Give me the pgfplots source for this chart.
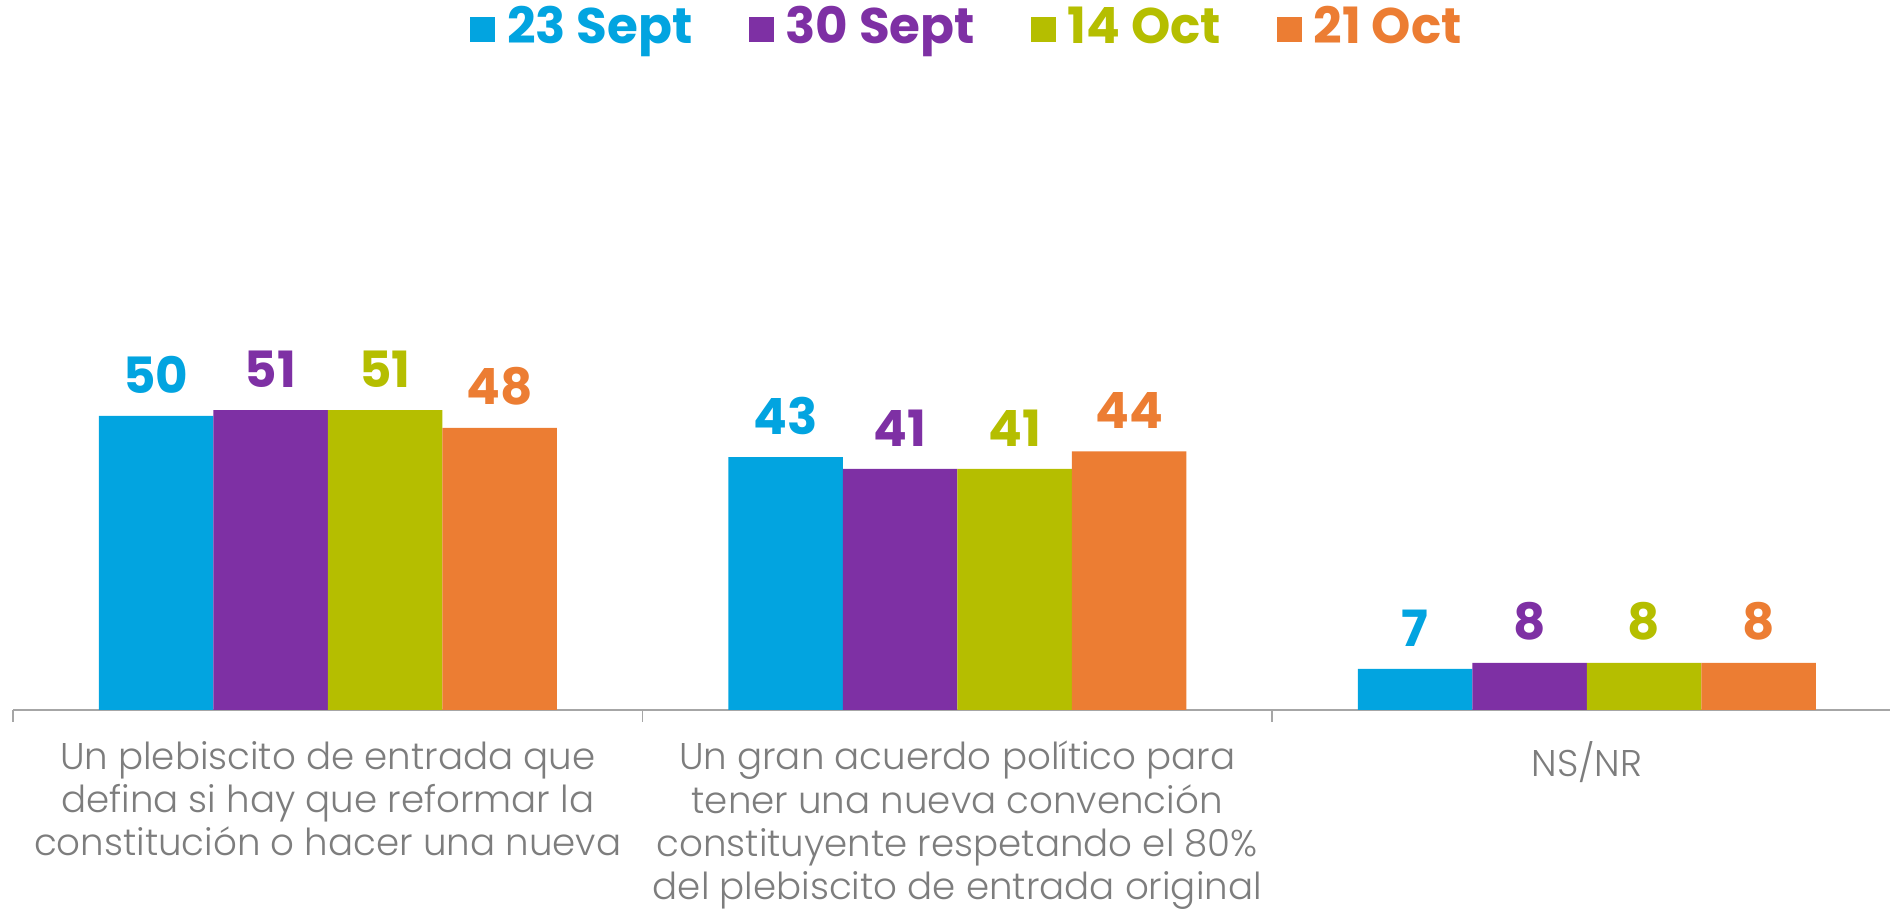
\documentclass[border=0pt]{standalone}
\usepackage{pgfplots}
\pgfplotsset{compat=1.18}
\usepackage{fontspec}
\setmainfont{Poppins}
\newfontfamily\lightfont{Poppins Light}
\definecolor{cblue}{RGB}{2,164,224}
\definecolor{cpurple}{RGB}{126,48,164}
\definecolor{cgreen}{RGB}{181,190,0}
\definecolor{corange}{RGB}{236,125,51}
\definecolor{axgray}{RGB}{166,166,166}
\definecolor{labgray}{RGB}{125,125,125}
\begin{document}
\begin{tikzpicture}
\path[use as bounding box] (0,0) rectangle (945pt,457.5pt);
\begin{axis}[
  at={(6.5pt,102.5pt)}, anchor=south west,
  width=944.25pt, height=294pt, scale only axis,
  xmin=-0.5, xmax=2.5, ymin=0, ymax=100,
  ybar=0pt, bar width=57.25pt,
  axis y line=none, axis x line*=bottom,
  x axis line style={draw=axgray, line width=0.75pt, -},
  tick align=outside, major tick length=6pt,
  xtick={0,1,2},
  xticklabels={{Un plebiscito de entrada que\\defina si hay que reformar la\\constitución o hacer una nueva},
    {Un gran acuerdo político para\\tener una nueva convención\\constituyente respetando el 80\%\\del plebiscito de entrada original},
    {NS/NR}},
  xtick style={draw=none},
  extra x ticks={-0.5,0.5,1.5},
  extra x tick labels={},
  extra x tick style={xtick style={draw=axgray, line width=0.75pt}},
  xticklabel style={font=\lightfont\fontsize{18.6}{21.7}\selectfont, text=labgray, align=center, yshift=-6pt},
  /pgf/number format/assume math mode=true,
  nodes near coords,
  nodes near coords style={font=\fontsize{25}{25}\selectfont\bfseries, anchor=south, inner sep=0pt, yshift=11pt},
  legend style={at={(0.5057,1.162)}, anchor=center, draw=none, legend columns=4,
    /tikz/every even column/.append style={column sep=26pt},
    font=\fontsize{25}{25}\selectfont\bfseries},
  legend image code/.code={\fill[#1] (0pt,-7.5pt) rectangle (12.5pt,5pt);},
]
\addplot[fill=cblue, draw=none, nodes near coords style={text=cblue}] coordinates {(0,50) (1,43) (2,7)};
\addplot[fill=cpurple, draw=none, nodes near coords style={text=cpurple}] coordinates {(0,51) (1,41) (2,8)};
\addplot[fill=cgreen, draw=none, nodes near coords style={text=cgreen}] coordinates {(0,51) (1,41) (2,8)};
\addplot[fill=corange, draw=none, nodes near coords style={text=corange}] coordinates {(0,48) (1,44) (2,8)};
\addlegendentry{\hspace{4pt}\textcolor{cblue}{23 Sept}}
\addlegendentry{\hspace{4pt}\textcolor{cpurple}{30 Sept}}
\addlegendentry{\hspace{4pt}\textcolor{cgreen}{14 Oct}}
\addlegendentry{\hspace{4pt}\textcolor{corange}{21 Oct}}
\end{axis}
\end{tikzpicture}
\end{document}
